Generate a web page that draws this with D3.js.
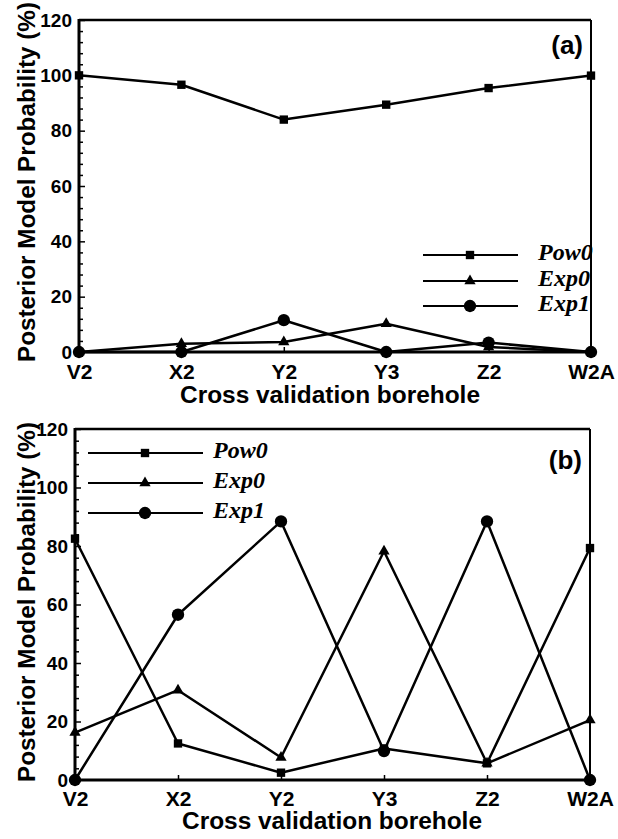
<!DOCTYPE html>
<html>
<head>
<meta charset="utf-8">
<script src="https://cdn.jsdelivr.net/npm/d3@7"></script>
<style>
  body { margin: 0; background: #fff; }
  svg { display: block; }
  .tick text { font-family: "Liberation Sans", Arial, sans-serif; font-weight: bold; fill: #000; }
  .tick line { stroke: #000; stroke-width: 1.5; }
</style>
</head>
<body>
<svg id="chart" width="618" height="839"></svg>
<script>
'use strict';

var categories = ['V2', 'X2', 'Y2', 'Y3', 'Z2', 'W2A'];
var yTicks = [0, 20, 40, 60, 80, 100, 120];
var seriesNames = ['Pow0', 'Exp0', 'Exp1'];

// panel (a)
var pow0A = [100, 96.6, 84.0, 89.4, 95.4, 99.9];
var exp0A = [0, 3.0, 3.6, 10.2, 1.8, 0];
var exp1A = [0, 0, 11.5, 0, 3.4, 0];

// panel (b)
var pow0B = [82.5, 12.5, 2.5, 10.8, 5.7, 79.3];
var exp0B = [16.2, 30.7, 7.7, 78.2, 5.7, 20.5];
var exp1B = [0, 56.5, 88.4, 9.9, 88.4, 0];

var svg = d3.select('#chart');

var markerTypes = [d3.symbolSquare, d3.symbolTriangle, d3.symbolCircle];
var markerSizes = [70, 55, 120];

function drawPanel(cfg) {
    var x = d3.scalePoint()
        .domain(categories)
        .range([cfg.left, cfg.right])
        .padding(0);

    var y = d3.scaleLinear()
        .domain([0, 120])
        .range([cfg.bottom, cfg.top]);

    var g = svg.append('g');

    // minor y ticks
    var minor = d3.range(0, 121, 4).filter(function (v) { return v % 20 !== 0; });
    g.append('g')
        .attr('transform', 'translate(' + cfg.left + ',0)')
        .call(d3.axisLeft(y).tickValues(minor).tickSizeInner(-4).tickSizeOuter(0).tickFormat(''))
        .call(function (s) { s.select('.domain').remove(); });

    // major y ticks + labels
    g.append('g')
        .attr('transform', 'translate(' + cfg.left + ',0)')
        .call(d3.axisLeft(y).tickValues(yTicks).tickSizeInner(-6).tickSizeOuter(0).tickPadding(7))
        .call(function (s) {
            s.select('.domain').remove();
            s.selectAll('text').style('font-size', '19px').attr('dy', '0.32em');
        });

    // x ticks + labels
    g.append('g')
        .attr('transform', 'translate(0,' + cfg.bottom + ')')
        .call(d3.axisBottom(x).tickSizeInner(-5).tickSizeOuter(0).tickPadding(cfg.xPad))
        .call(function (s) {
            s.select('.domain').remove();
            s.selectAll('text').style('font-size', '21px').attr('dy', '0.71em');
        });

    // frame
    g.append('line').attr('x1', cfg.left).attr('x2', cfg.right).attr('y1', cfg.top).attr('y2', cfg.top)
        .attr('stroke', '#000').attr('stroke-width', 2.5);
    g.append('line').attr('x1', cfg.right).attr('x2', cfg.right).attr('y1', cfg.top).attr('y2', cfg.bottom)
        .attr('stroke', '#000').attr('stroke-width', 2);
    g.append('line').attr('x1', cfg.left).attr('x2', cfg.left).attr('y1', cfg.top - 1).attr('y2', cfg.bottom + 1.5)
        .attr('stroke', '#000').attr('stroke-width', 3);
    g.append('line').attr('x1', cfg.left).attr('x2', cfg.right).attr('y1', cfg.bottom).attr('y2', cfg.bottom)
        .attr('stroke', '#000').attr('stroke-width', 3);

    var line = d3.line()
        .x(function (d, i) { return x(categories[i]); })
        .y(function (d) { return y(d); });

    cfg.series.forEach(function (vals, k) {
        g.append('path')
            .datum(vals)
            .attr('d', line)
            .attr('fill', 'none')
            .attr('stroke', '#000')
            .attr('stroke-width', 2.5)
            .attr('stroke-linejoin', 'round');

        g.selectAll('.m' + k)
            .data(vals)
            .enter()
            .append('path')
            .attr('transform', function (d, i) {
                return 'translate(' + x(categories[i]) + ',' + y(d) + ')';
            })
            .attr('d', d3.symbol().type(markerTypes[k]).size(markerSizes[k]))
            .attr('fill', '#000');
    });

    // legend
    seriesNames.forEach(function (name, k) {
        var ly = cfg.legY[k];
        g.append('line')
            .attr('x1', cfg.legX1).attr('x2', cfg.legX2)
            .attr('y1', ly).attr('y2', ly)
            .attr('stroke', '#000').attr('stroke-width', 2);
        g.append('path')
            .attr('transform', 'translate(' + cfg.legMark + ',' + ly + ')')
            .attr('d', d3.symbol().type(markerTypes[k]).size(markerSizes[k]))
            .attr('fill', '#000');
        g.append('text')
            .attr('x', cfg.legText)
            .attr('y', ly + 5)
            .style('font-family', '"Liberation Serif", "Times New Roman", serif')
            .style('font-weight', 'bold')
            .style('font-style', 'italic')
            .style('font-size', '24px')
            .text(name);
    });

    // panel tag
    g.append('text')
        .attr('x', cfg.right - 8)
        .attr('y', cfg.top + cfg.tagDy)
        .attr('text-anchor', 'end')
        .style('font-family', '"Liberation Sans", Arial, sans-serif')
        .style('font-weight', 'bold')
        .style('font-size', '26px')
        .text(cfg.tag);

    // axis titles
    g.append('text')
        .attr('x', cfg.xTitleX)
        .attr('y', cfg.bottom + cfg.xTitleDy)
        .attr('text-anchor', 'middle')
        .attr('textLength', 300)
        .attr('lengthAdjust', 'spacingAndGlyphs')
        .style('font-family', '"Liberation Sans", Arial, sans-serif')
        .style('font-weight', 'bold')
        .style('font-size', '23px')
        .text('Cross validation borehole');

    g.append('text')
        .attr('transform', 'translate(35,' + cfg.yTitleY + ') rotate(-90)')
        .attr('text-anchor', 'middle')
        .attr('textLength', 360)
        .attr('lengthAdjust', 'spacingAndGlyphs')
        .style('font-family', '"Liberation Sans", Arial, sans-serif')
        .style('font-weight', 'bold')
        .style('font-size', '23px')
        .text('Posterior Model Probability (%)');
}

drawPanel({
    left: 79, right: 591, top: 20, bottom: 352,
    series: [pow0A, exp0A, exp1A],
    legX1: 423, legX2: 518, legMark: 470, legText: 538, legY: [255, 281, 306],
    tag: '(a)', tagDy: 34, xPad: 12, xTitleX: 330, xTitleDy: 51, yTitleY: 182
});

drawPanel({
    left: 75, right: 590, top: 429, bottom: 780,
    series: [pow0B, exp0B, exp1B],
    legX1: 88, legX2: 203, legMark: 145, legText: 213, legY: [453, 483, 513],
    tag: '(b)', tagDy: 40, xPad: 11, xTitleX: 332, xTitleDy: 49, yTitleY: 602
});
</script>
</body>
</html>
